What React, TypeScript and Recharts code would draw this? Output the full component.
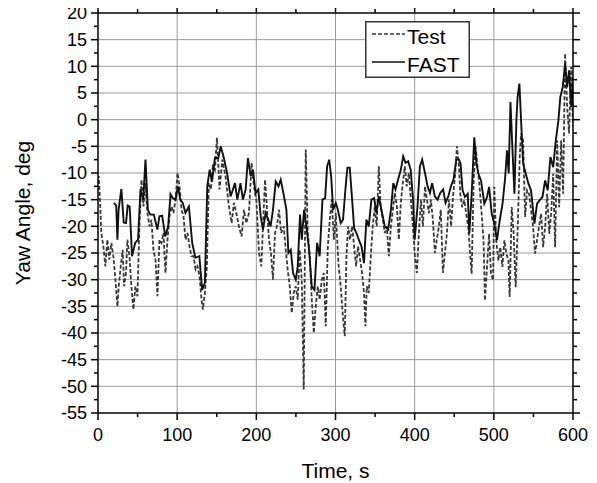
import React from "react";
import { LineChart, Line, XAxis, YAxis, CartesianGrid, Label } from "recharts";

const testTime = [0,1,2.5,4.2,6.8,9.3,11.8,14.3,16.9,19.4,22,24.5,26.2,28.7,31.2,32.9,35.4,37.1,39.7,42.2,44.7,47.3,49.8,52.3,54.9,57.4,60,62.4,65,67.5,70,72.6,75.1,77.6,80.2,82.7,85.2,87.8,90.3,92.8,95.4,97.9,100.4,103,105.5,108,110.5,113,115.6,118,120.7,123.2,125.7,128.3,130.8,132.5,135,137.5,140,142.6,145,147.7,150.2,152.7,153.5,157,161,165.4,168.8,171.7,174.7,178,181.4,184.4,187.3,190.7,194,197,200,203.4,206.3,208.4,211,213.5,216,218.5,221,223.6,226,228.7,231.2,234.6,237.1,239.6,242.2,244.7,247.2,249.8,252.3,254.8,257.4,259.9,262.4,265,267.5,270,272.6,275,277.6,280,282.7,285.2,287.7,290.3,292.8,295.3,297.9,300.4,303,304,306.6,309,311.7,313.8,316,318.4,321,323.5,326,328.5,331,333.6,336,337.8,339.5,342,344.6,347,349.6,352,354.7,357,359.8,362.3,364.8,367.4,370,372.4,375,377.5,380,382.5,385,387.6,390,392.7,395.2,397.7,400.3,402.8,405.3,408,410.4,413,415.5,418,420.5,423,425.6,428,430.6,433,435.7,438.2,440.8,443.3,446,448.4,451,453.4,456,457.6,460,462.7,465,467.7,470,472,474.5,477,479.5,482,484.6,487,488.8,491.4,494,496.4,499,500.6,503,505.7,508.2,510.8,513.3,515.8,518.4,520,522.6,525,527.6,530.2,532.7,534.4,537,539.5,542,544.5,547,549.6,552,554.6,557,559.7,562.2,564.8,567.3,570,572.4,575,577.4,580,582.5,585,587.5,590,592.6,595,597.7,600];
const testValue = [-11,-10.6,-15,-21.25,-23.75,-27.5,-22.5,-26.25,-23.1,-25.6,-30,-35,-31.25,-27.5,-24.4,-31.25,-28.75,-22.5,-25.6,-31.25,-35.6,-31.25,-33.1,-20,-11.25,-16.25,-11.9,-17.5,-20,-18.75,-24.4,-26.25,-33.1,-22.5,-23.1,-21.25,-28.75,-22.5,-18.1,-16.25,-17.5,-15,-10,-12.5,-16.9,-18.1,-22.5,-21.25,-23.75,-25.6,-25.6,-28.1,-27.5,-29.4,-33.75,-35.6,-32.5,-27.5,-11.9,-13.1,-8.75,-9.4,-3.4,-10.6,-13.1,-7.5,-10.6,-16.25,-19.4,-15.6,-17.5,-20,-21.9,-16.9,-19.4,-17.5,-8.1,-12.5,-15,-25,-27.5,-20,-11.25,-16.9,-22.5,-25,-30,-21.25,-20,-16.9,-21.25,-20,-24.4,-28.1,-31.25,-36.25,-32.5,-31.25,-33.75,-24.4,-30,-50.6,-5.6,-21.25,-25.6,-33.75,-40,-35,-31.25,-33.75,-30,-28.75,-38.75,-23.75,-18.75,-15,-22.5,-17.5,-25,-27.5,-31.25,-36.25,-40.6,-25.6,-20,-22.5,-20,-23.75,-27.5,-23.75,-26.25,-28.75,-32.5,-38.75,-31.25,-32.5,-25.6,-20,-16.25,-20,-8.75,-16.25,-18.75,-21.25,-20,-25.6,-20,-16.9,-13.75,-16.25,-22.5,-15.6,-11.9,-8.75,-12.5,-10,-15,-20,-25.6,-28.75,-21.25,-15,-20,-12.5,-15,-17.5,-15,-18.75,-25,-22.5,-20,-16.9,-28.75,-25,-21.25,-15,-20,-14.4,-10.6,-5,-8.75,-13.9,-16.4,-15.1,-17.6,-20.1,-25.1,-28.9,-11.4,-5.1,-8.9,-12.6,-17.6,-22.6,-33.9,-27.6,-21.4,-28.9,-30.1,-12.6,-22.6,-26.4,-23.9,-27.6,-22.6,-25.1,-26.4,-33.25,-16.4,-21.4,-31.4,-20.1,-7,-2.6,-3.9,-18.25,-13.25,-13.9,-17,-20.1,-25.1,-22.6,-20.1,-17.6,-23.9,-20.1,-13.9,-21.4,-17.6,-10.1,-23.9,-3.9,-16.4,-3.9,-13.9,12.4,2.4,-2.6,9.9,-1.4];

const fastTime = [20,23,24.5,26,29.5,32.5,35.4,37.5,40,43,47,50.6,53.6,57,60,63,66,70.5,75,77.6,81,85,88.6,91.6,94.5,97.9,101,104,107,110.5,114.8,119,123,128,131.6,135,138,141,144,147.7,152,155,159,163,167.5,170.4,173,176,180,183,186.5,189.4,192.8,195.8,199,202.5,205.5,208.4,211.8,215,218,221,224.5,228,230.8,235,238,240.5,243.5,246.4,249.8,252.3,255.2,257.4,260.3,263.3,266.6,270,273.4,276.8,280,283.5,286.9,289.4,292,294.5,297,300.4,303,306.6,309.5,312.5,315,318,321,323.5,326.4,329.4,332.8,336,339,342,345.4,348.8,351.7,354.7,358,362.3,366.5,370,373,375.8,379,382.5,385.5,388.5,391.8,395,398,400,403.6,406.6,409.5,413,416.3,419.3,422,425.6,429,432.3,436,439,442.5,445.8,449,452.6,456,458,460.5,463.5,467,469,472,475.3,478,480.4,483.8,488,491.4,494,497.3,500.6,504,507.4,511,514,516.7,518.8,521,523.4,526,528.5,530,532.3,534.4,537,540.3,543.7,547,551.3,554.6,558,561.4,564.8,568,571.5,575,578.3,581.6,584,587,590,592.6,595,597.7,600];
const fastValue = [-15.6,-16.1,-22.5,-16.9,-13,-19.3,-19.4,-16.1,-16.3,-25.6,-23.1,-22.5,-13.1,-15,-7.5,-16.9,-17.8,-17.8,-20.6,-18.1,-18,-21.9,-20,-14,-14.7,-15,-12.5,-15,-15.6,-17.5,-16.3,-23.1,-25.9,-25.6,-31.9,-30.6,-12.5,-9.4,-11.6,-7.2,-7.2,-5,-7.2,-10,-14.4,-13.1,-11.9,-15,-11.9,-15,-13.1,-7.2,-10.6,-9.4,-13.75,-13.1,-18.1,-20.6,-17.5,-18.75,-20,-16.9,-11.6,-12.5,-11.25,-14.4,-16.9,-25,-24.4,-28.75,-30,-27.5,-17.8,-22.5,-16.9,-20,-24.4,-31.25,-31.9,-23.1,-25.6,-15,-14.7,-8.75,-7.5,-10.6,-16.9,-15.6,-16.9,-19.4,-18.75,-13.1,-9,-9,-15,-20.3,-21.25,-22.5,-23.75,-26.9,-18.75,-20,-15,-14.7,-17.5,-14.4,-16.9,-20,-20.6,-16.9,-11.9,-13.1,-11.25,-9.4,-6.9,-8.1,-7.8,-9.4,-15,-22.5,-16.25,-8.75,-7.5,-10,-12.5,-13.75,-11.9,-14.4,-15,-13.75,-13.1,-15.6,-14.4,-12.5,-11.25,-7.5,-7.5,-8.25,-13.25,-14.5,-13.9,-21.4,-13.9,-3.3,-8.25,-10.1,-11.4,-15.75,-14.5,-12.6,-17.6,-19.5,-22.6,-18.9,-15.75,-11.4,-5.75,-10.1,3.3,-5.1,-13.9,-0.1,4.25,6.75,-0.1,-8.25,-10.1,-12,-13.25,-19.5,-15.75,-15.1,-14.5,-11.4,-13.25,-7,-8.9,-3.9,-0.1,4.25,6.1,10.5,6.1,9.25,2.4,8];

const xMajorTicks = [0, 100, 200, 300, 400, 500, 600];
const xMinorTicks = [50, 150, 250, 350, 450, 550];
const yMajorTicks = [-55, -50, -45, -40, -35, -30, -25, -20, -15, -10, -5, 0, 5, 10, 15, 20];
const yMinorTicks = [-52.5, -47.5, -42.5, -37.5, -32.5, -27.5, -22.5, -17.5, -12.5, -7.5, -2.5, 2.5, 7.5, 12.5, 17.5];
const seriesNames = ["Test", "FAST"];
const xTitle = "Time, s";
const yTitle = "Yaw Angle, deg";

const testData = testTime.map((t, i) => ({ t, v: testValue[i] }));
const fastData = fastTime.map((t, i) => ({ t, v: fastValue[i] }));
const xTicks = [...xMajorTicks, ...xMinorTicks].sort((a, b) => a - b);
const yTicks = [...yMajorTicks, ...yMinorTicks].sort((a, b) => a - b);
const gridX = xMajorTicks.slice(1, -1);
const gridY = yMajorTicks.slice(1, -1);

const FONT = "'Liberation Sans', Arial, Helvetica, sans-serif";
const MAJOR = 7;
const MINOR = 4;

const isXMajor = (v: number) => xMajorTicks.includes(v);
const isYMajor = (v: number) => yMajorTicks.includes(v);

const BottomTick = (props: any) => {
  const { x, y, payload } = props;
  const axisY = y - 7 - 8;
  const major = isXMajor(payload.value);
  return (
    <g>
      <line x1={x} x2={x} y1={axisY} y2={axisY + (major ? MAJOR : MINOR)} stroke="#000" strokeWidth={1.5} />
      {major && (
        <text x={x} y={axisY + 28} textAnchor="middle" fontSize={18} fontFamily={FONT} fill="#000">
          {payload.value}
        </text>
      )}
    </g>
  );
};

const TopTick = (props: any) => {
  const { x, y, payload } = props;
  const axisY = y + 7 + 2;
  const major = isXMajor(payload.value);
  return <line x1={x} x2={x} y1={axisY} y2={axisY - (major ? MAJOR : MINOR)} stroke="#000" strokeWidth={1.5} />;
};

const LeftTick = (props: any) => {
  const { x, y, payload } = props;
  const axisX = x + 7 + 4;
  const major = isYMajor(payload.value);
  return (
    <g>
      <line x1={axisX - (major ? MAJOR : MINOR)} x2={axisX} y1={y} y2={y} stroke="#000" strokeWidth={1.5} />
      {major && (
        <text x={axisX - 11} y={y} dy="0.36em" textAnchor="end" fontSize={18} fontFamily={FONT} fill="#000">
          {payload.value}
        </text>
      )}
    </g>
  );
};

const RightTick = (props: any) => {
  const { x, y, payload } = props;
  const axisX = x - 7 - 2;
  const major = isYMajor(payload.value);
  return <line x1={axisX} x2={axisX + (major ? MAJOR : MINOR)} y1={y} y2={y} stroke="#000" strokeWidth={1.5} />;
};

const XTitle = (props: any) => {
  const vb = props.viewBox || { x: 98, y: 413, width: 475, height: 70 };
  return (
    <text x={vb.x + vb.width / 2} y={vb.y + 65} textAnchor="middle" fontSize={21} fontFamily={FONT} fill="#000">
      {xTitle}
    </text>
  );
};

const YTitle = (props: any) => {
  const vb = props.viewBox || { x: 0, y: 13, width: 98, height: 400 };
  const cx = vb.x + 22;
  const cy = vb.y + vb.height / 2;
  return (
    <text x={cx} y={cy} dy="0.36em" transform={`rotate(-90, ${cx}, ${cy})`} textAnchor="middle" fontSize={21} fontFamily={FONT} fill="#000">
      {yTitle}
    </text>
  );
};

export default function App() {
  return (
    <div style={{ position: "relative", width: 597, height: 483, margin: "-8px 0 0 -8px", fontFamily: FONT }}>
      <LineChart width={597} height={483} margin={{ top: 0, right: 0, bottom: 0, left: 0 }}>
        <CartesianGrid xAxisId="b" yAxisId="l" verticalValues={gridX} horizontalValues={gridY} stroke="#9a9a9a" strokeWidth={1} />
        <XAxis xAxisId="b" dataKey="t" type="number" domain={[0, 600]} ticks={xTicks} interval={0} orientation="bottom" height={70} tickSize={7} tickMargin={8} tickLine={false} axisLine={{ stroke: "#000", strokeWidth: 1.5 }} tick={BottomTick} allowDataOverflow>
          <Label content={XTitle} />
        </XAxis>
        <XAxis xAxisId="t" dataKey="t" type="number" domain={[0, 600]} ticks={xTicks} interval={0} orientation="top" height={13} tickSize={7} tickMargin={2} tickLine={false} axisLine={{ stroke: "#000", strokeWidth: 1.5 }} tick={TopTick} allowDataOverflow />
        <YAxis yAxisId="l" type="number" domain={[-55, 20]} ticks={yTicks} interval={0} orientation="left" width={98} tickSize={7} tickMargin={4} tickLine={false} axisLine={{ stroke: "#000", strokeWidth: 1.5 }} tick={LeftTick} allowDataOverflow>
          <Label content={YTitle} />
        </YAxis>
        <YAxis yAxisId="r" type="number" domain={[-55, 20]} ticks={yTicks} interval={0} orientation="right" width={24} tickSize={7} tickMargin={2} tickLine={false} axisLine={{ stroke: "#000", strokeWidth: 1.5 }} tick={RightTick} allowDataOverflow />
        <Line xAxisId="b" yAxisId="l" data={testData} dataKey="v" name={seriesNames[0]} type="linear" stroke="#383838" strokeWidth={1.8} strokeDasharray="4 2" dot={false} activeDot={false} isAnimationActive={false} />
        <Line xAxisId="b" yAxisId="l" data={fastData} dataKey="v" name={seriesNames[1]} type="linear" stroke="#111" strokeWidth={1.9} dot={false} activeDot={false} isAnimationActive={false} />
      </LineChart>
      <div style={{ position: "absolute", left: 365, top: 21, width: 105, height: 57 }}>
        <svg width={105} height={57}>
          <rect x={0.75} y={0.75} width={103.5} height={55.5} fill="#fff" stroke="#333" strokeWidth={1.5} />
          <line x1={7} x2={40} y1={13} y2={13} stroke="#383838" strokeWidth={1.5} strokeDasharray="4 2" />
          <text x={42} y={23} fontSize={21} fontFamily={FONT} fill="#000">{seriesNames[0]}</text>
          <line x1={7} x2={40} y1={41} y2={41} stroke="#111" strokeWidth={1.6} />
          <text x={42} y={51} fontSize={21} fontFamily={FONT} fill="#000">{seriesNames[1]}</text>
        </svg>
      </div>
    </div>
  );
}
